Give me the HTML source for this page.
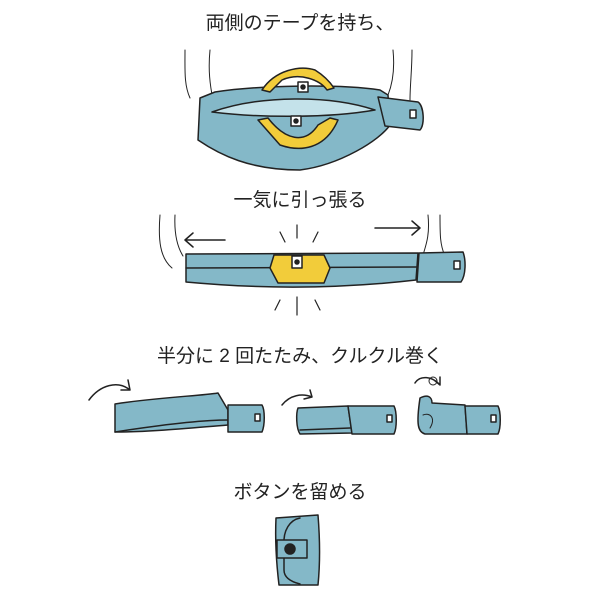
<!DOCTYPE html>
<html><head><meta charset="utf-8"><style>
body{margin:0;background:#fff}
svg{display:block}
text{font-family:"Liberation Sans","Noto Sans CJK JP",sans-serif;font-size:19px;fill:#222;text-anchor:middle}
</style></head><body>
<svg width="600" height="600" viewBox="0 0 600 600">
<g stroke="#222" stroke-width="1.5" stroke-linejoin="round" stroke-linecap="round">
<text x="300" y="29" stroke="none">両側のテープを持ち、</text>
<text x="300" y="206" stroke="none">一気に引っ張る</text>
<text x="300" y="362" stroke="none">半分に 2 回たたみ、クルクル巻く</text>
<text x="300" y="498" stroke="none">ボタンを留める</text>

<!-- step1 -->
<path d="M185 50 C185 70 184 85 190 98 M210 50 C208 70 210 85 213 100 M393 50 C395 70 392 85 388 95 M412 50 C412 70 410 85 410 100" fill="none" stroke-width="1"/>
<path d="M200 98 L215 92 C260 85 340 84 380 90 L388 95 L390 125 C380 140 340 165 300 170 C250 170 220 155 198 140 Z" fill="#84b8c8"/>
<path d="M212 112 C260 95 330 95 375 110 C330 118 260 118 212 112 Z" fill="#c4e2ea"/>
<path d="M262 90 C275 70 300 65 315 70 C323 75 330 82 334 88 L327 90 C320 80 300 72 282 80 L270 92 Z" fill="#f2cc3a"/>
<path d="M258 120 L268 118 C285 140 305 145 318 125 L330 118 L338 120 C325 150 300 152 280 145 Z" fill="#f2cc3a"/>
<rect x="298" y="82" width="10" height="10" fill="#fff"/><circle cx="303" cy="87" r="2" fill="#222"/>
<rect x="291" y="116" width="10" height="10" fill="#fff"/><circle cx="296" cy="121" r="2" fill="#222"/>
<path d="M378 97 L418 102 C424 106 425 125 420 130 L385 126 Z" fill="#84b8c8"/>
<rect x="410" y="110" width="6" height="8" fill="#fff"/>

<!-- step2 -->
<path d="M160 215 C158 240 160 258 172 268 M175 215 C174 235 178 248 183 256 M428 215 C430 235 426 245 423 255 M440 215 C440 235 440 245 445 256" fill="none" stroke-width="1"/>
<path d="M185 240 L225 240 M185 240 L193 233 M185 240 L193 247 M375 228 L420 228 M420 228 L412 221 M420 228 L412 235" fill="none"/>
<path d="M297 225 L297 238 M280 232 L285 242 M318 232 L313 242 M297 297 L297 315 M280 300 L275 310 M315 300 L320 310" fill="none" stroke-width="1.2"/>
<path d="M186 254 L418 253 L416 280 C330 290 250 288 186 282 Z" fill="#84b8c8"/>
<path d="M186 268 L416 267" fill="none"/>
<path d="M274 255 L324 255 L330 268 L324 283 L278 283 L270 268 Z" fill="#f2cc3a"/>
<rect x="292" y="256" width="10" height="12" fill="#fff"/><circle cx="297" cy="262" r="2" fill="#222"/>
<path d="M419 253 L463 252 C466 260 466 275 461 282 L417 282 Z" fill="#84b8c8"/>
<rect x="454" y="261" width="6" height="8" fill="#fff"/>

<!-- step3 -->
<path d="M89 400 C100 385 118 380 130 390 M130 390 L128 380 M130 390 L121 390" fill="none"/>
<path d="M115 404 C160 397 200 396 218 393 L228 410 L228 425 C190 428 150 432 115 432 Z" fill="#84b8c8"/>
<path d="M115 432 C160 425 200 420 228 420" fill="none"/>
<path d="M228 405 L262 405 C265 410 265 425 262 432 L228 432 Z" fill="#84b8c8"/>
<rect x="255" y="414" width="5" height="7" fill="#fff"/>
<path d="M282 405 C290 395 302 393 312 397 M312 397 L310 390 M312 397 L304 399" fill="none"/>
<path d="M298 408 L348 406 L352 433 L300 434 C296 428 296 413 298 408 Z" fill="#84b8c8"/>
<path d="M300 430 L350 428" fill="none"/>
<path d="M348 406 L394 406 C397 412 397 428 394 434 L352 434 Z" fill="#84b8c8"/>
<rect x="387" y="415" width="5" height="7" fill="#fff"/>
<path d="M415 383 C420 375 432 376 440 385 M440 385 L440 377 M440 385 L434 380" fill="none"/>
<circle cx="433" cy="381" r="4" fill="none" stroke-width="1"/>
<path d="M420 398 C428 394 432 397 432 403 L465 405 L467 434 L425 434 C418 432 416 425 420 398 Z" fill="#84b8c8"/>
<path d="M423 415 C430 412 436 418 430 428" fill="none" stroke-width="1"/>
<path d="M465 406 L498 406 C501 412 501 428 498 434 L467 434 Z" fill="#84b8c8"/>
<rect x="491" y="415" width="5" height="7" fill="#fff"/>

<!-- step4 -->
<path d="M276 518 L318 515 C320 540 320 565 318 585 L279 585 C276 560 275 540 276 518 Z" fill="#84b8c8"/>
<path d="M300 518 C290 520 283 530 284 545 L284 570 C284 578 292 582 300 584" fill="none"/>
<rect x="277" y="540" width="30" height="18" fill="#84b8c8"/>
<circle cx="290" cy="549" r="5" fill="#222"/>
</g>
</svg>
</body></html>
